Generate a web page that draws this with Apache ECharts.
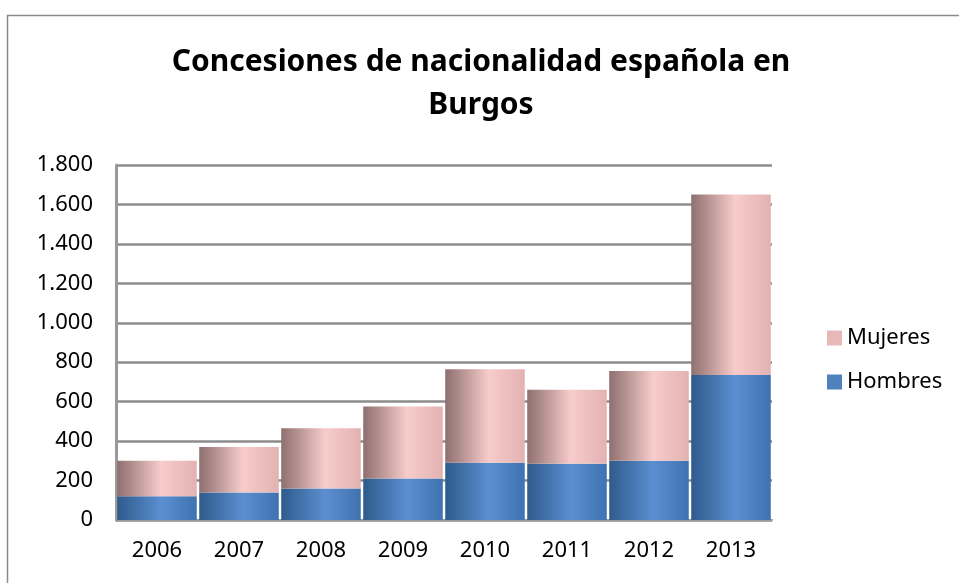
<!DOCTYPE html>
<html><head><meta charset="utf-8">
<script src="https://cdn.jsdelivr.net/npm/echarts@6/dist/echarts.min.js"></script>
<style>html,body{margin:0;padding:0;background:#fff}#c{width:959px;height:583px}</style>
</head><body><div id="c"></div>
<script>
const years = ['2006','2007','2008','2009','2010','2011','2012','2013'];
const hombres = [120, 140, 160, 210, 290, 285, 300, 735];
const mujeres = [180, 230, 305, 365, 475, 375, 455, 915];
const yTicks = {min: 0, max: 1800, interval: 200};

const font = '"Noto Sans", sans-serif';
const grad = (c1, c2, c3) => new echarts.graphic.LinearGradient(0, 0, 1, 0, [
  {offset: 0, color: c1}, {offset: 0.55, color: c2}, {offset: 1, color: c3}
]);
const chart = echarts.init(document.getElementById('c'));
chart.setOption({
  animation: false,
  backgroundColor: '#fff',
  graphic: [{type: 'rect', left: 5, top: 13, shape: {width: 1000, height: 620},
    style: {fill: 'none', stroke: '#8a8a8a', lineWidth: 1.5}, z: -1}],
  title: {
    text: 'Concesiones de nacionalidad española en\nBurgos',
    left: 476, top: 36, textAlign: 'center',
    textStyle: {fontFamily: font, fontWeight: 'bold', fontSize: 30, lineHeight: 43, color: '#000'}
  },
  legend: {
    data: [
      {name: 'Mujeres', itemStyle: {color: '#e6b9b8'}},
      {name: 'Hombres', itemStyle: {color: '#4f81bd'}}
    ],
    orient: 'vertical', left: 822, top: 322,
    itemWidth: 15, itemHeight: 15, itemGap: 22,
    textStyle: {fontFamily: font, fontSize: 22, color: '#000'},
    icon: 'rect'
  },
  grid: {left: 116, right: 187, top: 165, bottom: 63},
  xAxis: {
    type: 'category', data: years,
    axisLine: {lineStyle: {color: '#9a9a9a', width: 2}},
    axisTick: {show: false},
    axisLabel: {fontFamily: font, fontSize: 22, color: '#000', margin: 20}
  },
  yAxis: {
    type: 'value', min: yTicks.min, max: yTicks.max, interval: yTicks.interval,
    axisLine: {show: true, lineStyle: {color: '#9a9a9a', width: 3}},
    axisTick: {show: false},
    splitLine: {lineStyle: {color: '#8c8c8c', width: 2.5}},
    axisLabel: {fontFamily: font, fontSize: 22, color: '#000', margin: 23,
      formatter: v => v.toString().replace(/\B(?=(\d{3})+(?!\d))/g, '.')}
  },
  series: [
    {name: 'Hombres', type: 'bar', stack: 't', data: hombres, barCategoryGap: '3%',
      itemStyle: {color: grad('#2f5a8c', '#5b8fd0', '#3f72b0')}},
    {name: 'Mujeres', type: 'bar', stack: 't', data: mujeres,
      itemStyle: {color: grad('#8e6f6f', '#f7cccb', '#e2b2b1')}}
  ]
});
</script></body></html>
